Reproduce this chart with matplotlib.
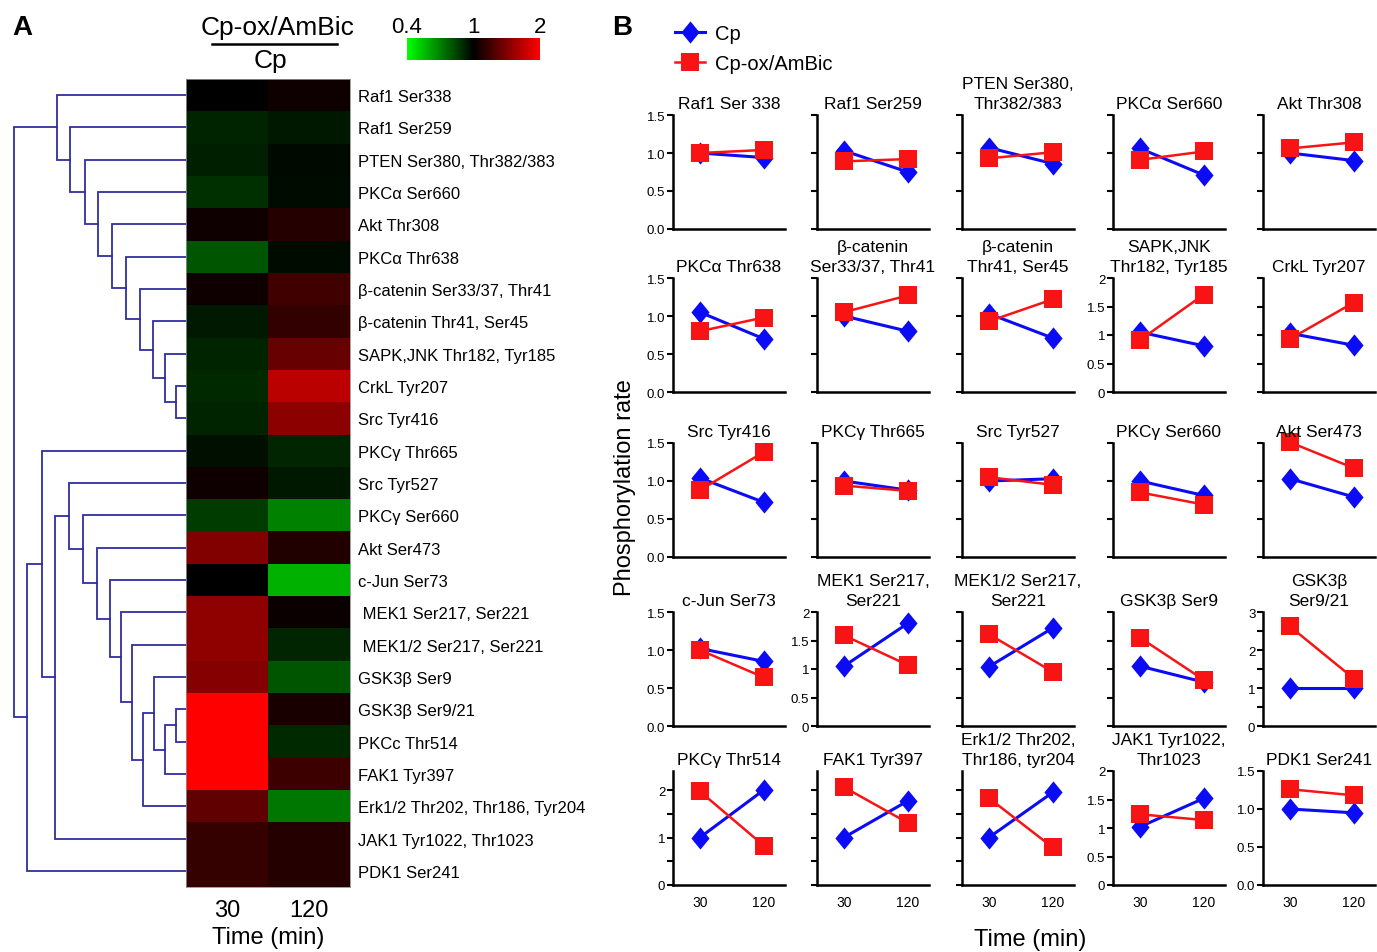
import matplotlib
matplotlib.use("Agg")
import numpy as np
import matplotlib.pyplot as plt
from matplotlib.cm import ScalarMappable
from matplotlib.colors import LinearSegmentedColormap, TwoSlopeNorm
from matplotlib.lines import Line2D
from matplotlib.ticker import FuncFormatter, MultipleLocator

plt.rcParams["font.family"] = ["Liberation Sans", "DejaVu Sans"]

W, H = 1377, 953

# ---- panel A: heatmap of Cp-ox/AmBic / Cp ratios, rows in dendrogram order
HEAT_LABELS = [
    "Raf1 Ser338", "Raf1 Ser259", "PTEN Ser380, Thr382/383", "PKCα Ser660",
    "Akt Thr308", "PKCα Thr638", "β-catenin Ser33/37, Thr41", "β-catenin Thr41, Ser45",
    "SAPK,JNK Thr182, Tyr185", "CrkL Tyr207", "Src Tyr416", "PKCγ Thr665",
    "Src Tyr527", "PKCγ Ser660", "Akt Ser473", "c-Jun Ser73",
    " MEK1 Ser217, Ser221", " MEK1/2 Ser217, Ser221", "GSK3β Ser9", "GSK3β Ser9/21",
    "PKCc Thr514", "FAK1 Tyr397", "Erk1/2 Thr202, Thr186, Tyr204", "JAK1 Tyr1022, Thr1023",
    "PDK1 Ser241",
]
HEAT_TIMES = ["30", "120"]
RATIO_30 = [1.00, 0.92, 0.925, 0.89, 1.06, 0.80, 1.06, 0.94, 0.92, 0.905, 0.92, 0.965,
            1.06, 0.86, 1.50, 1.00, 1.56, 1.56, 1.52, 2.00, 2.00, 2.00, 1.38, 1.21, 1.21]
RATIO_120 = [1.06, 0.945, 0.98, 0.975, 1.145, 0.975, 1.25, 1.20, 1.40, 1.73, 1.55, 0.915,
             0.945, 0.70, 1.125, 0.585, 1.04, 0.915, 0.80, 1.10, 0.905, 1.24, 0.72, 1.145, 1.145]

# dendrogram merges (child a, child b, height); leaves are 0..24, new nodes 25, 26, ...
DENDRO_MERGES = [
    (9, 10, 10), (8, 25, 21), (7, 26, 33), (6, 27, 46), (5, 28, 60),
    (4, 29, 74), (3, 30, 87.5), (2, 31, 101), (1, 32, 116), (0, 33, 129),
    (19, 20, 10), (35, 21, 21), (18, 36, 32), (37, 22, 43), (17, 38, 54),
    (16, 39, 65), (15, 40, 76), (14, 41, 89), (13, 42, 103), (12, 43, 117),
    (44, 23, 131), (11, 45, 144.5), (46, 24, 159), (34, 47, 172.5),
]

# ---- panel B: phosphorylation rate per site
PANEL_TITLES = [
    "Raf1 Ser 338", "Raf1 Ser259", "PTEN Ser380,\nThr382/383", "PKCα Ser660", "Akt Thr308",
    "PKCα Thr638", "β-catenin\nSer33/37, Thr41", "β-catenin\nThr41, Ser45",
    "SAPK,JNK\nThr182, Tyr185", "CrkL Tyr207",
    "Src Tyr416", "PKCγ Thr665", "Src Tyr527", "PKCγ Ser660", "Akt Ser473",
    "c-Jun Ser73", "MEK1 Ser217,\nSer221", "MEK1/2 Ser217,\nSer221", "GSK3β Ser9", "GSK3β\nSer9/21",
    "PKCγ Thr514", "FAK1 Tyr397", "Erk1/2 Thr202,\nThr186, tyr204", "JAK1 Tyr1022,\nThr1023",
    "PDK1 Ser241",
]
TIMES = [30, 120]
CP_30 = [1.00, 1.03, 1.07, 1.06, 1.00,
         1.05, 1.00, 1.03, 1.05, 1.03,
         1.04, 1.00, 1.00, 1.00, 1.03,
         1.02, 1.05, 1.04, 1.05, 1.00,
         1.00, 1.00, 1.00, 1.02, 1.00]
CP_120 = [0.94, 0.75, 0.86, 0.71, 0.90,
          0.70, 0.80, 0.71, 0.81, 0.82,
          0.72, 0.88, 1.03, 0.81, 0.79,
          0.85, 1.80, 1.72, 0.77, 1.00,
          2.00, 1.77, 1.95, 1.52, 0.95]
CPOX_30 = [1.00, 0.89, 0.93, 0.91, 1.06,
           0.80, 1.05, 0.93, 0.91, 0.93,
           0.88, 0.94, 1.05, 0.85, 1.51,
           1.00, 1.59, 1.61, 1.55, 2.62,
           1.97, 2.06, 1.83, 1.24, 1.26]
CPOX_120 = [1.04, 0.92, 1.01, 1.02, 1.14,
            0.98, 1.27, 1.22, 1.71, 1.57,
            1.38, 0.87, 0.95, 0.69, 1.17,
            0.64, 1.07, 0.95, 0.81, 1.25,
            0.83, 1.31, 0.79, 1.14, 1.18]
Y_MAX = [1.5, 1.5, 1.5, 1.5, 1.5,
         1.5, 1.5, 1.5, 2, 2,
         1.5, 1.5, 1.5, 1.5, 1.5,
         1.5, 2, 2, 2, 3,
         2.4, 2.4, 2.4, 2, 1.5]
# tick label style: "f1" -> 1.0, "g" -> 1.5 / 1, "int" -> integers only, None -> no labels
Y_LABELS = ["f1", None, None, None, None,
            "f1", None, None, "g", None,
            "f1", None, None, None, None,
            "f1", "g", None, None, "int",
            "int", None, None, "g", "f1"]

BLUE = "#0b0bf5"
RED = "#f81414"
DENDRO_COLOR = "#2e2e9e"
DIAMOND = [(0, 1), (0.82, 0), (0, -1), (-0.82, 0)]

COL_LEFT = [673, 817, 962, 1113, 1263]
ROW_TOP = [116, 279, 444, 613, 772]
AX_W, AX_H = 112, 114


def px_axes(fig, left, top, right, bottom):
    return fig.add_axes([left / W, 1 - bottom / H, (right - left) / W, (bottom - top) / H])


def tick_formatter(style):
    def fmt(v, pos):
        if style == "f1":
            return f"{v:.1f}"
        if style == "g":
            return f"{v:g}"
        if style == "int":
            return f"{int(round(v))}" if abs(v - round(v)) < 1e-6 else ""
        return ""
    return FuncFormatter(fmt)


def draw_dendrogram(ax, merges, n_leaves):
    ypos = {i: i + 0.5 for i in range(n_leaves)}
    height = {i: 0.0 for i in range(n_leaves)}
    for k, (a, b, h) in enumerate(merges):
        ax.plot([height[a], h, h, height[b]], [ypos[a], ypos[a], ypos[b], ypos[b]],
                color=DENDRO_COLOR, lw=1.3, solid_joinstyle="miter")
        node = n_leaves + k
        ypos[node] = (ypos[a] + ypos[b]) / 2
        height[node] = h


fig = plt.figure(figsize=(W / 100, H / 100), dpi=100)

# ---------------- panel A
n = len(HEAT_LABELS)
cmap = LinearSegmentedColormap.from_list("gkr", ["#00ff00", "#000000", "#ff0000"])
norm = TwoSlopeNorm(vmin=0.4, vcenter=1.0, vmax=2.0)

ax_h = px_axes(fig, 186, 80, 350, 888)
data = np.column_stack([RATIO_30, RATIO_120])
ax_h.pcolormesh(np.arange(3), np.arange(n + 1), data, cmap=cmap, norm=norm)
ax_h.set_xlim(0, 2)
ax_h.set_ylim(n, 0)
ax_h.set_xticks([0.5, 1.5])
ax_h.set_xticklabels(HEAT_TIMES, fontsize=17)
ax_h.set_yticks(np.arange(n) + 0.5)
ax_h.set_yticklabels(HEAT_LABELS, fontsize=12)
ax_h.yaxis.tick_right()
ax_h.tick_params(axis="both", length=0)
ax_h.tick_params(axis="y", pad=6)
ax_h.tick_params(axis="x", pad=9)
ax_h.set_xlabel("Time (min)", fontsize=17, labelpad=3)
for sp in ax_h.spines.values():
    sp.set_color("#909090")
    sp.set_linewidth(0.6)

ax_d = px_axes(fig, 10, 80, 186, 888)
draw_dendrogram(ax_d, DENDRO_MERGES, n)
ax_d.set_xlim(176, 0)
ax_d.set_ylim(n, 0)
ax_d.axis("off")

cax = px_axes(fig, 407, 39, 540, 61)
cb = fig.colorbar(ScalarMappable(norm=norm, cmap=cmap), cax=cax, orientation="horizontal",
                  ticks=[0.4, 1, 2])
cb.set_ticklabels(["0.4", "1", "2"])
cb.ax.xaxis.set_ticks_position("top")
cb.ax.tick_params(length=0, labelsize=16, pad=1)
cb.outline.set_visible(False)

fig.text(278 / W, 1 - 28 / H, "Cp-ox/AmBic", fontsize=19, ha="center", va="center")
fig.add_artist(Line2D([212 / W, 337 / W], [1 - 45 / H, 1 - 45 / H], color="black", lw=1.8))
fig.text(270 / W, 1 - 61 / H, "Cp", fontsize=19, ha="center", va="center")
fig.text(12 / W, 1 - 28 / H, "A", fontsize=20, fontweight="bold", ha="left", va="center")

# ---------------- panel B
handles = None
for i, title in enumerate(PANEL_TITLES):
    r, c = divmod(i, 5)
    left, top = COL_LEFT[c], ROW_TOP[r]
    ax = px_axes(fig, left, top, left + AX_W, top + AX_H)
    (l_cp,) = ax.plot(TIMES, [CP_30[i], CP_120[i]], color=BLUE, lw=2.2, marker=DIAMOND,
                      ms=16, mew=0, clip_on=False, label="Cp")
    (l_ox,) = ax.plot(TIMES, [CPOX_30[i], CPOX_120[i]], color=RED, lw=1.8, marker="s",
                      ms=12.5, mew=0, clip_on=False, label="Cp-ox/AmBic")
    if handles is None:
        handles = [l_cp, l_ox]
    ax.set_xlim(-8, 150)
    ax.set_ylim(0, Y_MAX[i])
    for side in ("top", "right"):
        ax.spines[side].set_visible(False)
    for side in ("left", "bottom"):
        ax.spines[side].set_linewidth(1.8)
    ax.yaxis.set_major_locator(MultipleLocator(0.5))
    ax.yaxis.set_major_formatter(tick_formatter(Y_LABELS[i]))
    ax.tick_params(axis="y", direction="out", length=4, width=1.5, labelsize=9.5, pad=1.5)
    if r == 4:
        ax.set_xticks(TIMES)
        ax.set_xticklabels([str(t) for t in TIMES])
        ax.tick_params(axis="x", length=0, labelsize=10, pad=7)
    else:
        ax.set_xticks([])
    ax.set_title(title, fontsize=12.5, pad=5, linespacing=1.4)

fig.legend(handles=handles, loc="upper left", bbox_to_anchor=(675 / W, 1 - 25 / H),
           frameon=False, fontsize=14.5, numpoints=1, handlelength=1.5,
           handletextpad=0.5, borderpad=0, borderaxespad=0, labelspacing=0.55)

fig.text(612 / W, 1 - 28 / H, "B", fontsize=20, fontweight="bold", ha="left", va="center")
fig.text(625 / W, 1 - 488 / H, "Phosphorylation rate", fontsize=17, rotation=90,
         ha="center", va="center")
fig.text(1030 / W, 1 - 940 / H, "Time (min)", fontsize=17, ha="center", va="center")

fig.savefig("out.png", dpi=100)
